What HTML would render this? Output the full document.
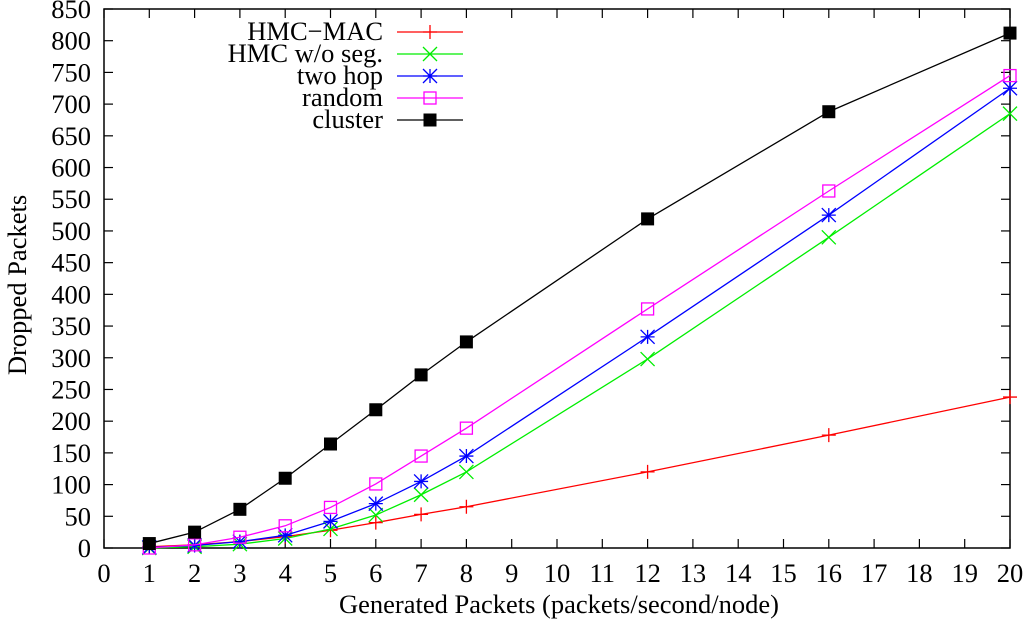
<!DOCTYPE html>
<html><head><meta charset="utf-8"><style>
body{margin:0;background:#fff}
svg{display:block;font-family:"Liberation Serif",serif}
</style></head><body>
<svg id="c" width="1024" height="621">
<g id="axes"></g><g id="series"></g><g id="legend"></g>
</svg>
<script>
const xValues=[1,2,3,4,5,6,7,8,12,16,20];
const hmcMac=[2,5,10,18,28,40,53,65,120,178,238];
const hmcNoSeg=[0,2,6,15,30,52,84,120,298,490,685];
const twoHop=[1,4,10,20,42,70,105,145,333,525,725];
const randomS=[0,5,17,35,64,101,145,189,377,563,745];
const cluster=[7,25,61,110,164,218,273,325,519,688,812];
const xTicks=[0,1,2,3,4,5,6,7,8,9,10,11,12,13,14,15,16,17,18,19,20];
const yTicks=[0,50,100,150,200,250,300,350,400,450,500,550,600,650,700,750,800,850];
const seriesNames=["HMC\u2212MAC","HMC w/o seg.","two hop","random","cluster"];
const seriesColors=["#ff0000","#00ee00","#0000ff","#ff00ff","#000000"];
const seriesData=[hmcMac,hmcNoSeg,twoHop,randomS,cluster];
const L=104,R=1010,T=9,B=548,FS=26.5;
const sx=v=>L+(v-0)/20*(R-L);
const sy=v=>B-(v-0)/850*(B-T);
const NS="http://www.w3.org/2000/svg";
function mk(t,a,p){const e=document.createElementNS(NS,t);for(const k in a)e.setAttribute(k,a[k]);p.appendChild(e);return e;}
const ax=document.getElementById('axes');
const frame=mk('rect',{x:L,y:T,width:R-L,height:B-T,fill:'none',stroke:'#000','stroke-width':1.5},ax);


xTicks.forEach(v=>{const x=sx(v);
mk('line',{x1:x,y1:B,x2:x,y2:B-9,stroke:'#000','stroke-width':1.2},ax);
mk('line',{x1:x,y1:T,x2:x,y2:T+9,stroke:'#000','stroke-width':1.2},ax);
const t=mk('text',{x:x,y:B+34,'text-anchor':'middle','font-size':FS},ax);t.textContent=v;

});
yTicks.forEach(v=>{const y=sy(v);
mk('line',{x1:L,y1:y,x2:L+9,y2:y,stroke:'#000','stroke-width':1.2},ax);
mk('line',{x1:R,y1:y,x2:R-9,y2:y,stroke:'#000','stroke-width':1.2},ax);
const t=mk('text',{x:91,y:y+9,'text-anchor':'end','font-size':FS},ax);t.textContent=v;

});
const xt=mk('text',{x:559,y:613,'text-anchor':'middle','font-size':FS},ax);xt.textContent="Generated Packets (packets/second/node)";


const yt=mk('text',{x:0,y:0,'text-anchor':'middle','font-size':FS,transform:'translate(26,285) rotate(-90)'},ax);yt.textContent="Dropped Packets";


function marker(i,x,y,p){const c=seriesColors[i];const s=7;
if(i==0){mk('path',{d:`M${x-s} ${y}H${x+s}M${x} ${y-s}V${y+s}`,stroke:c,'stroke-width':1.3,fill:'none'},p);}
else if(i==1){mk('path',{d:`M${x-s} ${y-s}L${x+s} ${y+s}M${x-s} ${y+s}L${x+s} ${y-s}`,stroke:c,'stroke-width':1.3,fill:'none'},p);}
else if(i==2){mk('path',{d:`M${x-s} ${y}H${x+s}M${x} ${y-s}V${y+s}M${x-s} ${y-s}L${x+s} ${y+s}M${x-s} ${y+s}L${x+s} ${y-s}`,stroke:c,'stroke-width':1.3,fill:'none'},p);}
else if(i==3){mk('rect',{x:x-6,y:y-6,width:12,height:12,stroke:c,'stroke-width':1.3,fill:'none'},p);}
else {mk('rect',{x:x-6.5,y:y-6.5,width:13,height:13,fill:c},p);}}
const sg=document.getElementById('series');
seriesData.forEach((d,i)=>{const g=mk('g',{},sg);


mk('polyline',{points:d.map((v,j)=>sx(xValues[j])+','+sy(v)).join(' '),fill:'none',stroke:seriesColors[i],'stroke-width':1.3},g);
d.forEach((v,j)=>marker(i,sx(xValues[j]),sy(v),g));});
const lg=document.getElementById('legend');


seriesNames.forEach((n,i)=>{const y=32+i*22;const g=mk('g',{},lg);


const t=mk('text',{x:383,y:y+8,'text-anchor':'end','font-size':FS},g);t.textContent=n;
mk('line',{x1:397,y1:y,x2:463,y2:y,stroke:seriesColors[i],'stroke-width':1.3},g);
marker(i,430,y,g);});
</script>
</body></html>
